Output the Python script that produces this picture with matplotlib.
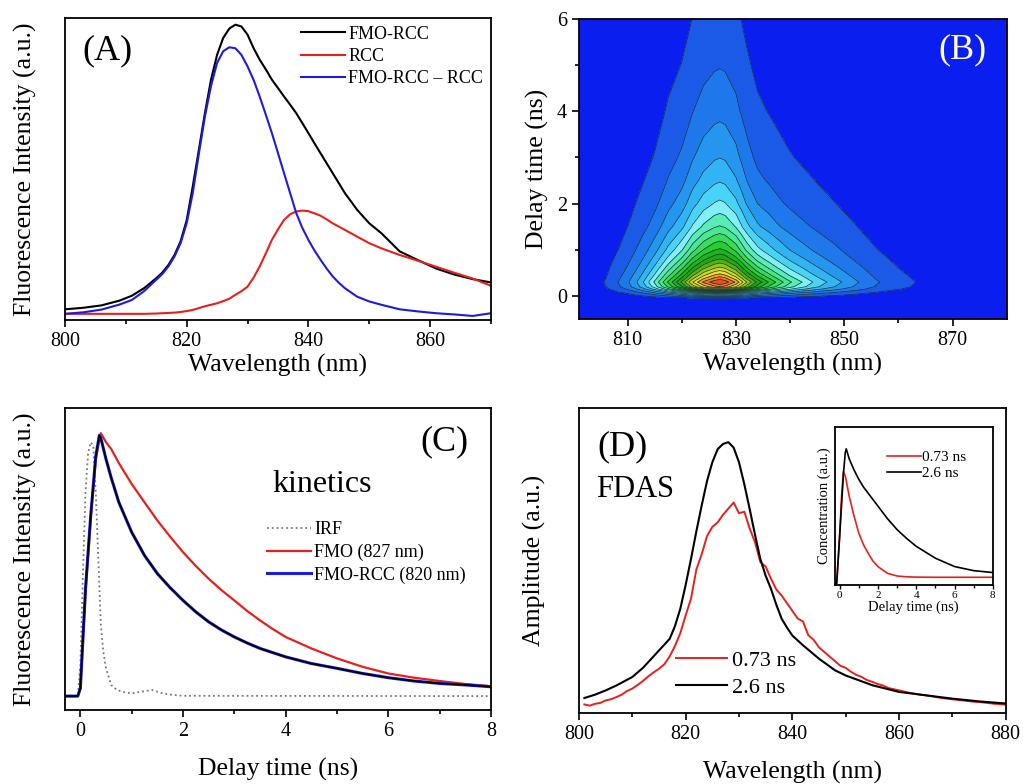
import numpy as np
import matplotlib.pyplot as plt
from matplotlib.colors import ListedColormap, BoundaryNorm
from matplotlib.ticker import MultipleLocator

plt.rcParams['font.family'] = ['Liberation Serif', 'DejaVu Serif']
plt.rcParams['axes.linewidth'] = 1.3
plt.rcParams['xtick.direction'] = 'out'
plt.rcParams['ytick.direction'] = 'out'

RED = '#e8201c'
BLUE = '#1c1ce0'

# ---- (A) steady-state fluorescence spectra ----
a_wl = [800, 803, 806, 809, 811, 813, 815, 816, 817, 818, 819, 820, 821, 822, 823, 824, 825, 826,
        827, 828, 829, 830, 831, 832, 833, 834, 835, 836, 837, 838, 839, 840, 841, 842, 843, 844,
        845, 846, 848, 850, 852, 855, 858, 861, 864, 867, 870]
a_fmo_rcc = [.035, .040, .048, .064, .080, .105, .138, .157, .182, .215, .260, .330, .442, .563,
             .685, .796, .878, .934, .965, .978, .972, .945, .900, .862, .830, .796, .768, .740,
             .713, .685, .652, .619, .585, .552, .519, .486, .453, .420, .365, .320, .287, .227,
             .198, .170, .150, .135, .124]
a_rcc = [.020, .020, .020, .020, .020, .020, .021, .022, .023, .024, .026, .029, .033, .039, .045,
         .050, .055, .062, .070, .083, .095, .110, .140, .177, .220, .265, .300, .331, .350, .359,
         .362, .360, .353, .345, .333, .320, .309, .298, .276, .254, .237, .215, .196, .176, .156,
         .137, .113]
a_diff = [.020, .025, .034, .051, .066, .095, .133, .152, .177, .210, .254, .320, .420, .550, .674,
          .775, .851, .890, .903, .900, .878, .840, .795, .740, .680, .619, .553, .486, .420, .354,
          .305, .265, .230, .199, .170, .144, .123, .105, .077, .061, .050, .035, .028, .022, .018,
          .013, .022]

# ---- (B) time-resolved map: fast (0.73 ns) + slow (2.6 ns) component ----
b_wl = [800, 804, 806, 808.3, 810, 811.7, 813, 815, 817.5, 820, 822, 824, 826, 827, 828, 830, 831,
        832, 834, 836, 838, 840, 844, 848, 852, 856, 860, 864, 868, 872, 880]
b_fast_sp = [0, .02, .04, .075, .1, .14, .18, .26, .35, .45, .51, .56, .59, .6, .59, .56, .54, .52,
             .47, .41, .36, .31, .23, .17, .12, .08, .055, .035, .018, .005, 0]
b_slow_sp = [0, .01, .015, .027, .043, .061, .075, .1, .16, .21, .29, .35, .39, .4, .39, .33, .28,
             .23, .165, .14, .115, .097, .075, .056, .04, .025, .015, .01, .005, 0, 0]
b_t = [-0.5, -0.15, -0.05, 0.05, 0.15, 0.2, 0.3, 0.45, 0.6, 0.8, 1.0, 1.5, 2.0, 2.5, 3.0, 4.0,
       5.0, 6.0, 6.5]
b_fast_t = [0, 0, .05, .35, .75, .9, 1.0, .81, .663, .503, .383, .193, .097, .049, .025, .006,
            .0016, .0004, 0]
b_slow_t = [0, 0, .05, .35, .75, .9, 1.0, .96, .92, .87, .82, .72, .63, .54, .46, .33, .24, .175,
            .15]
b_levels = [0, .05, .1, .15, .2, .25, .3, .35, .4, .45, .5, .55, .6, .65, .7, .75, .8, .85, .9,
            .95, 1.0]
b_colors = ['#0a1ef0', '#1a5ae6', '#1e78ec', '#2496f0', '#30b4f4', '#48d4f8', '#80f0f6',
            '#58ecb8', '#48e890', '#38dc58', '#28cc30', '#18b818', '#20a810', '#50b410',
            '#90c814', '#c8dc18', '#f0e020', '#f0a820', '#f07818', '#f05010']

# ---- (C) kinetics ----
c_t = [-0.3, -0.05, 0.0, 0.1, 0.2, 0.3, 0.37, 0.4, 0.5, 0.6, 0.75, 1.0, 1.25, 1.5, 1.75, 2.0, 2.25,
       2.5, 2.75, 3.0, 3.25, 3.5, 3.75, 4.0, 4.5, 5.0, 5.5, 6.0, 6.5, 7.0, 7.5, 8.0]
c_fmo = [.046, .046, .072, .391, .633, .83, .895, .917, .887, .865, .818, .749, .688, .628, .574,
         .523, .477, .435, .397, .363, .328, .297, .268, .242, .204, .171, .143, .121, .107, .096,
         .086, .079]
c_fmo_rcc = [.046, .046, .072, .40, .64, .84, .91, .90, .831, .77, .688, .589, .512, .452, .405,
             .363, .325, .292, .265, .242, .222, .204, .19, .176, .154, .138, .121, .107, .096,
             .088, .083, .077]
irf_t = [-0.3, -0.05, 0.0, 0.05, 0.1, 0.15, 0.2, 0.25, 0.3, 0.35, 0.4, 0.45, 0.5, 0.6, 0.7, 0.8,
         1.0, 1.2, 1.4, 1.6, 1.8, 2.0, 8.0]
irf = [.046, .046, .149, .45, .72, .85, .887, .876, .72, .50, .28, .19, .138, .083, .068, .061,
       .055, .061, .066, .055, .050, .047, .046]

# ---- (D) FDAS ----
d_wl_slow = [801, 803, 805, 807, 810, 812, 813, 815, 817, 818, 819, 820, 821, 822, 823, 824, 825,
             826, 827, 828, 829, 830, 831, 832, 833, 834, 835, 836, 837, 838, 839, 840, 842, 845,
             848, 850, 855, 860, 865, 870, 875, 880]
d_slow = [.049, .060, .074, .090, .118, .148, .167, .205, .243, .285, .342, .420, .505, .595, .680,
          .760, .822, .865, .882, .888, .870, .822, .750, .669, .585, .505, .450, .407, .355, .309,
          .280, .254, .222, .178, .140, .123, .091, .069, .058, .047, .038, .031]
d_wl_fast = list(range(801, 881))
d_fast = [.028, .024, .030, .033, .041, .045, .052, .060, .072, .080, .092, .105, .120, .133, .145,
          .160, .185, .220, .262, .320, .375, .470, .520, .580, .610, .625, .650, .670, .690, .655,
          .660, .605, .560, .495, .480, .440, .405, .385, .360, .335, .310, .300, .255, .240, .215,
          .200, .185, .170, .155, .148, .135, .125, .118, .108, .102, .095, .090, .082, .078, .074,
          .070, .066, .063, .060, .058, .055, .052, .049, .047, .045, .043, .041, .039, .037, .036,
          .034, .032, .030, .029, .027]
ins_t = [-0.3, -0.15, 0.0, 0.1, 0.2, 0.3, 0.35, 0.5, 0.75, 1.0, 1.25, 1.5, 1.75, 2.0, 2.5, 3.0,
         3.5, 4.0, 5.0, 6.0, 7.0, 8.0]
ins_fast = [.01, .01, .3, .55, .717, .69, .66, .564, .44, .33, .255, .2, .15, .117, .074, .057,
            .052, .05, .049, .049, .049, .049]
ins_slow = [.01, .01, .3, .5, .7, .84, .862, .80, .73, .67, .62, .58, .54, .5, .42, .351, .295,
            .245, .17, .117, .091, .079]

fig = plt.figure(figsize=(10.23, 7.84), dpi=100)

LAB = 18.5
TCK = 14.5


def style(ax, yticks=False):
    ax.tick_params(axis='both', which='major', length=5, width=1.2, labelsize=TCK)
    ax.tick_params(axis='both', which='minor', length=3, width=1.2)
    if not yticks:
        ax.set_yticks([])


# (A)
axA = fig.add_axes([0.0635, 0.592, 0.4164, 0.385])
axA.plot(a_wl, a_fmo_rcc, color='black', lw=1.5, label='FMO-RCC')
axA.plot(a_wl, a_rcc, color=RED, lw=1.5, label='RCC')
axA.plot(a_wl, a_diff, color=BLUE, lw=1.5, label='FMO-RCC \u2013 RCC')
axA.set_xlim(800, 870)
axA.set_ylim(0, 1)
axA.xaxis.set_major_locator(MultipleLocator(20))
axA.xaxis.set_minor_locator(MultipleLocator(10))
style(axA)
axA.set_xlabel('Wavelength (nm)', fontsize=LAB, labelpad=2)
axA.set_ylabel('Fluorescence Intensity (a.u.)', fontsize=LAB, labelpad=20)
axA.legend(loc='upper left', bbox_to_anchor=(0.555, 0.975), frameon=False, fontsize=13,
           handlelength=2.4, handletextpad=0.2, labelspacing=0.3, borderpad=0, borderaxespad=0)
axA.text(0.04, 0.89, '(A)', transform=axA.transAxes, fontsize=26, va='center', ha='left')

# (B)
axB = fig.add_axes([0.566, 0.593, 0.418, 0.383])
Z = np.outer(b_fast_t, b_fast_sp) + np.outer(b_slow_t, b_slow_sp)
cmap = ListedColormap(b_colors)
norm = BoundaryNorm(b_levels, cmap.N)
axB.set_facecolor(b_colors[0])
axB.contourf(b_wl, b_t, Z, levels=b_levels, cmap=cmap, norm=norm)
axB.contour(b_wl, b_t, Z, levels=b_levels[1:], colors='#1a2a3a', linewidths=0.5)
axB.set_xlim(801, 880)
axB.set_ylim(-0.5, 6)
axB.set_xticks([810, 830, 850, 870])
axB.set_xticks([820, 840, 860], minor=True)
axB.set_yticks([0, 2, 4, 6])
axB.yaxis.set_minor_locator(MultipleLocator(1))
style(axB, yticks=True)
axB.set_xlabel('Wavelength (nm)', fontsize=LAB, labelpad=2)
axB.set_ylabel('Delay time (ns)', fontsize=LAB, labelpad=6)
axB.text(0.84, 0.897, '(B)', transform=axB.transAxes, fontsize=26, va='center', ha='left',
         color='white')

# (C)
axC = fig.add_axes([0.0635, 0.0944, 0.4164, 0.385])
axC.plot(irf_t, irf, color='#777777', lw=1.3, ls=':', label='IRF')
axC.plot(c_t, c_fmo, color=RED, lw=1.6, label='FMO (827 nm)')
axC.plot(c_t, c_fmo_rcc, color=BLUE, lw=2.2, label='FMO-RCC (820 nm)')
axC.plot(c_t, c_fmo_rcc, color='black', lw=1.2)
axC.set_xlim(-0.3, 8)
axC.set_ylim(0, 1)
axC.xaxis.set_major_locator(MultipleLocator(2))
axC.xaxis.set_minor_locator(MultipleLocator(1))
style(axC)
axC.set_xlabel('Delay time (ns)', fontsize=LAB, labelpad=12)
axC.set_ylabel('Fluorescence Intensity (a.u.)', fontsize=LAB, labelpad=20)
axC.legend(loc='upper left', bbox_to_anchor=(0.475, 0.625), frameon=False, fontsize=13,
           handlelength=2.4, handletextpad=0.2, labelspacing=0.3, borderpad=0, borderaxespad=0)
axC.text(0.486, 0.748, 'kinetics', transform=axC.transAxes, fontsize=23, va='center', ha='left')
axC.text(0.835, 0.887, '(C)', transform=axC.transAxes, fontsize=26, va='center', ha='left')

# (D)
axD = fig.add_axes([0.566, 0.0906, 0.417, 0.389])
axD.plot(d_wl_fast, d_fast, color=RED, lw=1.4, label='0.73 ns')
axD.plot(d_wl_slow, d_slow, color='black', lw=1.5, label='2.6 ns')
axD.set_xlim(800, 880)
axD.set_ylim(0, 1)
axD.xaxis.set_major_locator(MultipleLocator(20))
axD.xaxis.set_minor_locator(MultipleLocator(10))
style(axD)
axD.set_xlabel('Wavelength (nm)', fontsize=LAB, labelpad=12)
axD.set_ylabel('Amplitude (a.u.)', fontsize=LAB, labelpad=24)
axD.legend(loc='upper left', bbox_to_anchor=(0.228, 0.205), frameon=False, fontsize=16,
           handlelength=2.3, handletextpad=0.2, labelspacing=0.3, borderpad=0, borderaxespad=0)
axD.text(0.042, 0.872, '(D)', transform=axD.transAxes, fontsize=26, va='center', ha='left')
axD.text(0.04, 0.734, 'FDAS', transform=axD.transAxes, fontsize=22, va='center', ha='left')

# inset
axI = fig.add_axes([0.816, 0.2538, 0.1545, 0.2015])
axI.plot(ins_t, ins_fast, color=RED, lw=1.2, label='0.73 ns')
axI.plot(ins_t, ins_slow, color='black', lw=1.2, label='2.6 ns')
axI.set_xlim(-0.25, 8)
axI.set_ylim(0, 1)
axI.xaxis.set_major_locator(MultipleLocator(2))
axI.xaxis.set_minor_locator(MultipleLocator(1))
axI.tick_params(axis='both', which='major', length=3, width=1.0, labelsize=8, pad=1)
axI.tick_params(axis='both', which='minor', length=2, width=1.0)
axI.set_yticks([])
axI.set_xlabel('Delay time (ns)', fontsize=10.5, labelpad=1)
axI.set_ylabel('Concentration (a.u.)', fontsize=10.5, labelpad=3)
axI.legend(loc='upper left', bbox_to_anchor=(0.33, 0.85), frameon=False, fontsize=11,
           handlelength=2.2, handletextpad=0.1, labelspacing=0.15, borderpad=0, borderaxespad=0)

plt.savefig('out.png', dpi=100)
